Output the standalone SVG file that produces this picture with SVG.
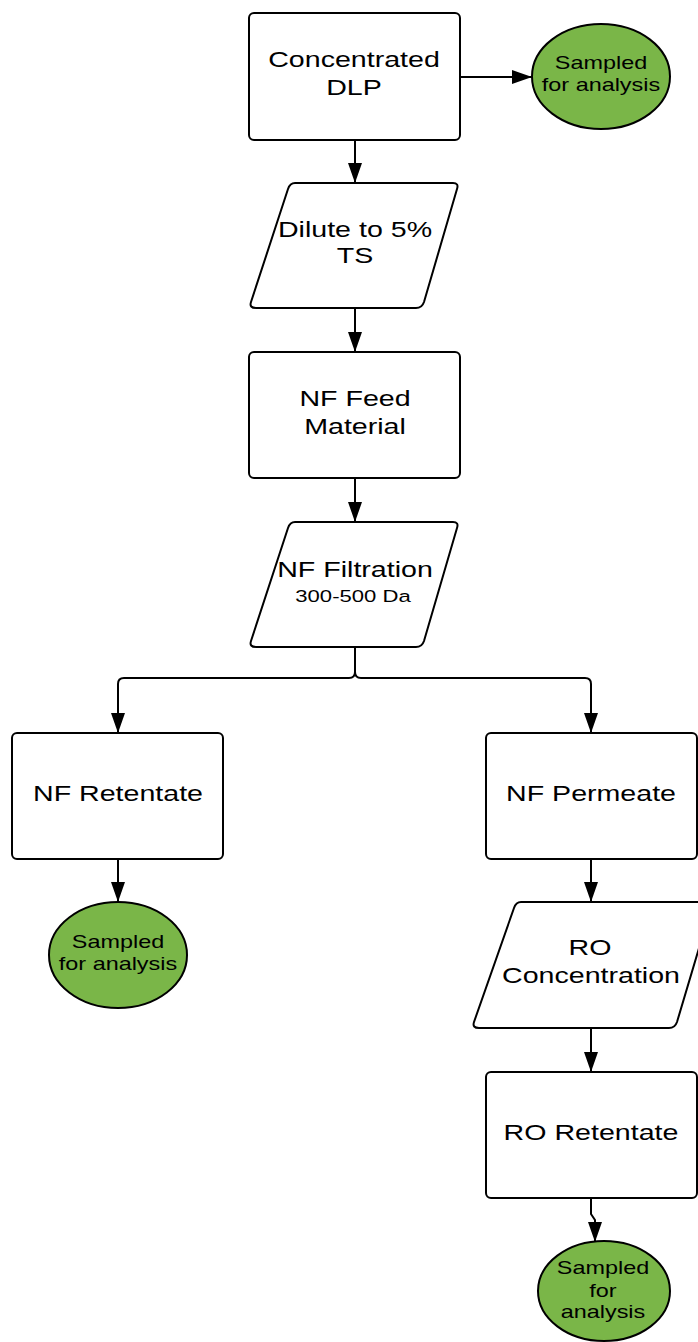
<svg xmlns="http://www.w3.org/2000/svg" width="698" height="1342" viewBox="0 0 698 1342">
<defs>
<marker id="ah" markerUnits="userSpaceOnUse" markerWidth="22" markerHeight="16" refX="20" refY="7" orient="auto">
<path d="M0,0 L20,7 L0,14 Z" fill="#000"/>
</marker>
<style>
.box{fill:#fff;stroke:#000;stroke-width:2}
.samp{fill:#7ab648;stroke:#000;stroke-width:2}
.t{font-family:"Liberation Sans",Arial,sans-serif;font-size:22px;fill:#000;text-anchor:middle}
.s{font-family:"Liberation Sans",Arial,sans-serif;font-size:18px;fill:#000;text-anchor:middle}
.sm{font-family:"Liberation Sans",Arial,sans-serif;font-size:17px;fill:#000;text-anchor:middle}
.c{fill:none;stroke:#000;stroke-width:2}
</style>
</defs>
<rect width="698" height="1342" fill="#fff"/>
<g id="connectors">
<path class="c" d="M460,77 H532" marker-end="url(#ah)"/>
<path class="c" d="M355,140 V183" marker-end="url(#ah)"/>
<path class="c" d="M355,308 V352" marker-end="url(#ah)"/>
<path class="c" d="M355,478 V522" marker-end="url(#ah)"/>
<path class="c" d="M355,647 V672 Q355,678 349,678 H124 Q118,678 118,684 V733" marker-end="url(#ah)"/>
<path class="c" d="M355,672 Q355,678 361,678 H585 Q591,678 591,684 V733" marker-end="url(#ah)"/>
<path class="c" d="M118,859 V902" marker-end="url(#ah)"/>
<path class="c" d="M591,859 V902" marker-end="url(#ah)"/>
<path class="c" d="M591,1028 V1072" marker-end="url(#ah)"/>
<path class="c" d="M591,1198 V1214 L595,1220 V1242" marker-end="url(#ah)"/>
</g>
<g id="concentrated-dlp">
<rect class="box" x="249" y="13" width="211" height="127" rx="5"/>
<text class="t" transform="translate(354 67) scale(1.3 1)">Concentrated</text>
<text class="t" transform="translate(354 95) scale(1.3 1)">DLP</text>
</g>
<g id="sampled-1">
<ellipse class="samp" cx="601" cy="76.5" rx="69" ry="52.5"/>
<text class="s" transform="translate(601 69) scale(1.3 1)">Sampled</text>
<text class="s" transform="translate(601 91) scale(1.3 1)">for analysis</text>
</g>
<g id="dilute">
<path class="box" d="M295,183 H453 Q459,183 457,189 L424,302 Q422,308 416,308 H256 Q249,308 251,302 L288,189 Q290,183 295,183 Z"/>
<text class="t" transform="translate(355 237) scale(1.3 1)">Dilute to 5%</text>
<text class="t" transform="translate(355 263) scale(1.3 1)">TS</text>
</g>
<g id="nf-feed">
<rect class="box" x="249" y="352" width="211" height="126" rx="5"/>
<text class="t" transform="translate(355 406) scale(1.3 1)">NF Feed</text>
<text class="t" transform="translate(355 434) scale(1.3 1)">Material</text>
</g>
<g id="nf-filtration">
<path class="box" d="M295,522 H453 Q459,522 457,528 L424,641 Q422,647 416,647 H256 Q249,647 251,641 L288,528 Q290,522 295,522 Z"/>
<text class="t" transform="translate(355 577) scale(1.3 1)">NF Filtration</text>
<text class="sm" transform="translate(353 602) scale(1.3 1)">300-500 Da</text>
</g>
<g id="nf-retentate">
<rect class="box" x="12" y="733" width="211" height="126" rx="5"/>
<text class="t" transform="translate(118 801) scale(1.3 1)">NF Retentate</text>
</g>
<g id="sampled-2">
<ellipse class="samp" cx="118" cy="955" rx="69" ry="53"/>
<text class="s" transform="translate(118 948) scale(1.3 1)">Sampled</text>
<text class="s" transform="translate(118 970) scale(1.3 1)">for analysis</text>
</g>
<g id="nf-permeate">
<rect class="box" x="486" y="733" width="211" height="126" rx="5"/>
<text class="t" transform="translate(591 801) scale(1.3 1)">NF Permeate</text>
</g>
<g id="ro-concentration">
<path class="box" d="M521,902 H707 Q713,902 711,908 L677,1022 Q675,1028 669,1028 H479 Q472,1028 474,1022 L514,908 Q516,902 521,902 Z"/>
<text class="t" transform="translate(590 955) scale(1.3 1)">RO</text>
<text class="t" transform="translate(591 983) scale(1.3 1)">Concentration</text>
</g>
<g id="ro-retentate">
<rect class="box" x="486" y="1072" width="211" height="126" rx="5"/>
<text class="t" transform="translate(591 1140) scale(1.3 1)">RO Retentate</text>
</g>
<g id="sampled-3">
<ellipse class="samp" cx="604" cy="1291" rx="66" ry="50"/>
<text class="s" transform="translate(603 1274) scale(1.3 1)">Sampled</text>
<text class="s" transform="translate(603 1297) scale(1.3 1)">for</text>
<text class="s" transform="translate(603 1318) scale(1.3 1)">analysis</text>
</g>
</svg>
